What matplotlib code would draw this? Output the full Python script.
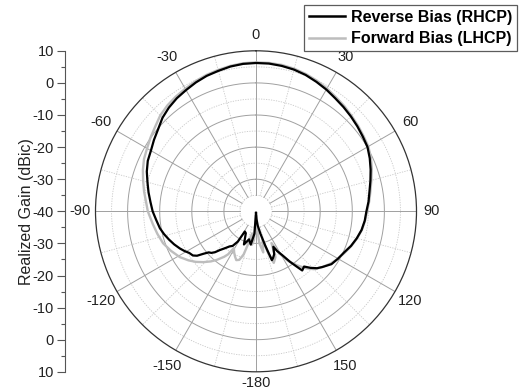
import numpy as np
import matplotlib
matplotlib.use("Agg")
import matplotlib.pyplot as plt
from matplotlib.lines import Line2D

plt.rcParams['font.family'] = ['Liberation Sans', 'DejaVu Sans']

# ---------------- data (angle in degrees, gain in dBic) ----------------
rhcp_angle = [-180, -176, -171, -166, -160, -155, -151, -149, -146, -143, -140, -137,
              -135, -133, -131, -129, -127, -125, -122, -119, -116, -112, -108, -104,
              -100, -95, -90, -85, -80, -75, -70, -65, -60, -55, -50, -45, -40, -35,
              -30, -25, -20, -15, -10, -5, 0, 5, 10, 15, 20, 25, 30, 35, 40, 45, 50,
              55, 60, 65, 70, 75, 80, 85, 90, 95, 100, 105, 110, 115, 120, 125, 130,
              133, 136, 139, 142, 144, 146, 149, 152, 154, 157, 160, 162, 165, 169,
              173, 176, 180]
rhcp_gain = [-39.5, -33, -29.5, -31, -29, -32.5, -32.8, -29, -27, -26.3, -25, -23.5,
             -22, -21, -20.5, -19, -17, -16, -15.5, -14.5, -13.6, -12.5, -11.5, -10.5,
             -9.6, -8.8, -7.8, -7, -6, -5, -3.8, -2.8, -2.2, -1.2, -0.2, 1.2, 2.2, 3.0,
             3.6, 4.3, 4.9, 5.3, 5.8, 6.1, 6.2, 6.2, 6.0, 5.7, 5.2, 4.5, 3.8, 3.0, 2.4,
             1.8, 1.2, 0.6, 0.1, -0.9, -2, -3.1, -4.1, -4.8, -5.6, -6, -6.6, -7.5, -8.5,
             -9.7, -10.5, -11.3, -13, -14, -15.5, -17.2, -16.6, -19, -21, -24, -26,
             -27.7, -25.5, -24.5, -24, -29, -33, -35.5, -37.5, -39.5]

lhcp_angle = [-180, -176, -173, -170, -167, -164, -161, -158, -155, -152, -149, -147,
              -145, -141, -138, -134, -130, -126, -121, -115, -109, -103, -97, -90, -85,
              -80, -75, -70, -65, -60, -55, -50, -45, -40, -35, -30, -25, -20, -15, -10,
              -5, 0, 5, 10, 15, 20, 25, 30, 35, 40, 45, 50, 55, 60, 65, 70, 75, 80, 85,
              90, 95, 100, 105, 110, 115, 120, 125, 130, 135, 139, 143, 147, 151, 154,
              157, 161, 164, 167, 170, 174, 177, 180]
lhcp_gain = [-38.5, -31, -29.5, -33, -30, -26, -24, -23.6, -24.5, -25.5, -26.6, -24,
             -22.7, -20.5, -19, -17.2, -15.5, -14, -12.3, -10.8, -9.4, -8.5, -7.6, -6.3, -5.6,
             -4.6, -3.6, -2.5, -1.5, -0.8, 0.1, 1.0, 2.2, 3.0, 3.6, 4.1, 4.7, 5.2, 5.6, 6.0,
             6.3, 6.4, 6.4, 6.3, 6.0, 5.5, 4.9, 4.2, 3.4, 2.8, 2.1, 1.5, 0.9, 0.4, -0.5,
             -1.6, -2.8, -3.8, -4.6, -5.4, -5.9, -6.5, -7.4, -8.4, -9.5, -10.5, -11.6,
             -13, -14.5, -16.5, -19, -21.5, -25, -29, -24.5, -23, -27, -31, -27, -30,
             -35, -38.5]

angle_ticks = [0, 30, 60, 90, 120, 150, 180, -150, -120, -90, -60, -30]
angle_labels = ['0', '30', '60', '90', '120', '150', '-180', '-150', '-120', '-90', '-60', '-30']
r_min, r_max = -40, 10
side_ticks = [-50, -40, -30, -20, -10, 0, 10, 20, 30, 40, 50]
side_labels = ['10', '0', '-10', '-20', '-30', '-40', '-30', '-20', '-10', '0', '10']

# ---------------- figure ----------------
W, H = 522, 391
fig = plt.figure(figsize=(W / 100, H / 100), dpi=100)
fig.patch.set_facecolor('white')

cx, cy, R = 256, 211.3, 160.5
ax = fig.add_axes([(cx - R) / W, (H - cy - R) / H, 2 * R / W, 2 * R / H], projection='polar')
ax.set_theta_zero_location('N')
ax.set_theta_direction(-1)
ax.set_ylim(r_min, r_max)
ax.grid(False)
ax.set_xticks([])
ax.set_yticks([])
ax.spines['polar'].set_color('#333333')
ax.spines['polar'].set_linewidth(0.9)

tt = np.linspace(0, 2 * np.pi, 721)
# rings
for rv in [-35, -25, -15, -5, 5]:
    ax.plot(tt, np.full_like(tt, rv), color='#c8c8c8', lw=0.6, ls=(0, (1.5, 1.5)), zorder=1)
for rv in [-30, -20, -10, 0]:
    ax.plot(tt, np.full_like(tt, rv), color='#a0a0a0', lw=0.7, zorder=1)
# spokes
for a in range(0, 360, 15):
    th = np.deg2rad(a)
    if a % 30 == 0:
        ax.plot([th, th], [-35, r_max], color='#a0a0a0', lw=0.7, zorder=1)
    else:
        ax.plot([th, th], [-35, r_max], color='#c8c8c8', lw=0.6, ls=(0, (1.5, 1.5)), zorder=1)

# angle labels
for a, lab in zip(angle_ticks, angle_labels):
    rr = 14.8 if a % 90 == 0 else 15.6
    if a == 180:
        rr = 13.5
    ax.text(np.deg2rad(a), rr, lab, ha='center', va='center', fontsize=10.5,
            color='#222222', clip_on=False)

# data
ax.plot(np.deg2rad(lhcp_angle), lhcp_gain, color='#bdbdbd', lw=1.7, zorder=3,
        label='Forward Bias (LHCP)')
ax.plot(np.deg2rad(rhcp_angle), rhcp_gain, color='black', lw=1.6, zorder=4,
        label='Reverse Bias (RHCP)')

# side radial scale
ax2 = fig.add_axes([64.5 / W, (H - cy - R) / H, 0.001, 2 * R / H])
ax2.set_ylim(-50, 50)
ax2.set_yticks(side_ticks)
ax2.set_yticklabels(side_labels, fontsize=10.5, color='#222222')
ax2.set_yticks(np.arange(-45, 50, 10), minor=True)
ax2.tick_params(axis='y', which='major', length=5.5, width=0.8, color='#555555', pad=2)
ax2.tick_params(axis='y', which='minor', length=3, width=0.8, color='#555555')
ax2.set_xticks([])
for s in ['top', 'right', 'bottom']:
    ax2.spines[s].set_visible(False)
ax2.spines['left'].set_color('#555555')
ax2.spines['left'].set_linewidth(0.8)
ax2.patch.set_alpha(0)
ax2.set_ylabel('Realized Gain (dBic)', fontsize=11.5, color='#222222', labelpad=-0.5)

# legend
handles = [Line2D([], [], color='black', lw=1.8), Line2D([], [], color='#bdbdbd', lw=1.8)]
leg = fig.legend(handles, ['Reverse Bias (RHCP)', 'Forward Bias (LHCP)'],
                 loc='upper right', bbox_to_anchor=(517 / W, 1 - 5 / H),
                 prop={'weight': 'bold', 'size': 11.5}, frameon=True, fancybox=False,
                 edgecolor='#333333', handlelength=2.3, handletextpad=0.35,
                 borderpad=0.3, labelspacing=0.4, borderaxespad=0)
leg.get_frame().set_linewidth(0.9)

fig.savefig('out.png', dpi=100, facecolor='white')
